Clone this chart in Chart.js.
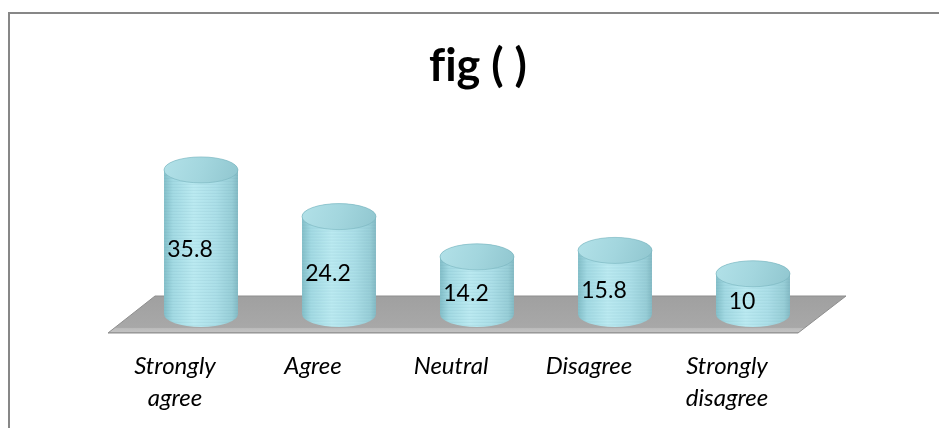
<!DOCTYPE html>
<html>
<head>
<meta charset="utf-8">
<script src="https://cdn.jsdelivr.net/npm/chart.js@4/dist/chart.umd.min.js"></script>
<style>
  html, body { margin: 0; padding: 0; background: #ffffff; }
  #wrap { width: 939px; height: 428px; position: relative; }
</style>
</head>
<body>
<div id="wrap"><canvas id="c" width="939" height="428"></canvas></div>
<script>
// ---- data ----
const chartTitle = "f\u200Cig ( )";
const categories = [["Strongly", "agree"], ["Agree"], ["Neutral"], ["Disagree"], ["Strongly", "disagree"]];
const values = [35.8, 24.2, 14.2, 15.8, 10];
const valueLabels = ["35.8", "24.2", "14.2", "15.8", "10"];
const axisMin = 0;
const axisMax = 40;

// ---- 3D look constants ----
const DEPTH_X = 48, DEPTH_Y = 37;      // floor depth offset
const BAR_DX = 26, BAR_DY = 20;        // cylinder position inside the depth
const ELL_RY = 13;
const FONT = 'Lato, "Open Sans", sans-serif';

const framePlugin = {
  id: 'frame',
  beforeDraw(chart) {
    const ctx = chart.ctx;
    ctx.save();
    ctx.fillStyle = '#ffffff';
    ctx.fillRect(0, 0, chart.width, chart.height);
    ctx.strokeStyle = '#878787';
    ctx.lineWidth = 2;
    ctx.beginPath();
    ctx.moveTo(9, chart.height + 5);
    ctx.lineTo(9, 13);
    ctx.lineTo(chart.width + 5, 13);
    ctx.stroke();
    // title
    ctx.fillStyle = '#000000';
    ctx.font = 'bold 45px ' + FONT;
    ctx.textAlign = 'center';
    ctx.textBaseline = 'alphabetic';
    ctx.fillText(chartTitle, 478, 81);
    ctx.restore();
  }
};

const floorPlugin = {
  id: 'floor3d',
  beforeDatasetsDraw(chart) {
    const ctx = chart.ctx;
    const a = chart.chartArea;
    const fl = a.left + 2, fr = a.right + 2, fy = a.bottom - 1;
    ctx.save();
    ctx.beginPath();
    ctx.moveTo(fl, fy);
    ctx.lineTo(fl + DEPTH_X - 1, fy - DEPTH_Y);
    ctx.lineTo(fr + DEPTH_X, fy - DEPTH_Y);
    ctx.lineTo(fr, fy);
    ctx.closePath();
    const g = ctx.createLinearGradient(0, fy - DEPTH_Y, 0, fy);
    g.addColorStop(0, '#a0a0a0');
    g.addColorStop(0.85, '#a8a8a8');
    g.addColorStop(0.88, '#bcbcbc');
    g.addColorStop(0.97, '#c2c2c2');
    g.addColorStop(1, '#8a8a8a');
    ctx.fillStyle = g;
    ctx.fill();
    ctx.strokeStyle = '#8e8e8e';
    ctx.lineWidth = 1;
    ctx.stroke();
    ctx.restore();
  }
};

const cylinderPlugin = {
  id: 'cylinders',
  afterDatasetsDraw(chart) {
    const ctx = chart.ctx;
    const meta = chart.getDatasetMeta(0);
    meta.data.forEach((bar, i) => {
      const p = bar.getProps(['x', 'y', 'base', 'width'], true);
      const cx = p.x + BAR_DX;
      const rx = p.width / 2;
      const topY = p.y - BAR_DY;
      const baseY = p.base - BAR_DY;
      ctx.save();
      ctx.beginPath();
      ctx.moveTo(cx - rx, topY);
      ctx.lineTo(cx - rx, baseY);
      ctx.ellipse(cx, baseY, rx, ELL_RY, 0, Math.PI, 0, true);
      ctx.lineTo(cx + rx, topY);
      ctx.ellipse(cx, topY, rx, ELL_RY, 0, 0, Math.PI, true);
      ctx.closePath();
      const sg = ctx.createLinearGradient(cx - rx, 0, cx + rx, 0);
      sg.addColorStop(0, '#84bfc9');
      sg.addColorStop(0.12, '#a3dae3');
      sg.addColorStop(0.4, '#bbeaf1');
      sg.addColorStop(0.7, '#acdfe8');
      sg.addColorStop(0.92, '#98ced7');
      sg.addColorStop(1, '#84bac4');
      ctx.fillStyle = sg;
      ctx.fill();
      ctx.clip();
      ctx.strokeStyle = 'rgba(90,150,165,0.10)';
      ctx.lineWidth = 1;
      for (let yy = topY - ELL_RY; yy < baseY + ELL_RY; yy += 3) {
        ctx.beginPath();
        ctx.moveTo(cx - rx, yy + 0.5);
        ctx.lineTo(cx + rx, yy + 0.5);
        ctx.stroke();
      }
      ctx.restore();
      ctx.save();
      ctx.beginPath();
      ctx.ellipse(cx, topY, rx, ELL_RY, 0, 0, Math.PI * 2);
      const tg = ctx.createLinearGradient(cx - rx, topY - ELL_RY, cx + rx, topY + ELL_RY);
      tg.addColorStop(0, '#b2e1e8');
      tg.addColorStop(0.5, '#a3d6de');
      tg.addColorStop(1, '#90c6cf');
      ctx.fillStyle = tg;
      ctx.fill();
      ctx.strokeStyle = 'rgba(120,180,190,0.6)';
      ctx.lineWidth = 1;
      ctx.stroke();
      ctx.fillStyle = '#000000';
      ctx.font = '23px ' + FONT;
      ctx.textAlign = 'center';
      ctx.textBaseline = 'middle';
      ctx.fillText(valueLabels[i], p.x + 15, (topY + baseY) / 2 + 8);
      ctx.restore();
    });
  }
};

new Chart(document.getElementById('c'), {
  type: 'bar',
  data: {
    labels: categories,
    datasets: [{
      data: values,
      backgroundColor: 'rgba(0,0,0,0)',
      borderWidth: 0,
      categoryPercentage: 1,
      barPercentage: 0.536
    }]
  },
  options: {
    responsive: false,
    animation: false,
    events: [],
    layout: { padding: { left: 106, right: 143, top: 173, bottom: 0 } },
    plugins: {
      legend: { display: false },
      tooltip: { enabled: false },
      title: { display: false }
    },
    scales: {
      x: {
        display: true,
        grid: { display: false, drawTicks: false },
        border: { display: false },
        ticks: {
          color: '#000000',
          font: { family: FONT, size: 24, style: 'italic', lineHeight: 1.3 },
          padding: 17,
          maxRotation: 0,
          autoSkip: false
        },
        afterFit(scale) { scale.height = 94; }
      },
      y: {
        display: false,
        min: axisMin,
        max: axisMax
      }
    }
  },
  plugins: [framePlugin, floorPlugin, cylinderPlugin]
});
</script>
</body>
</html>
